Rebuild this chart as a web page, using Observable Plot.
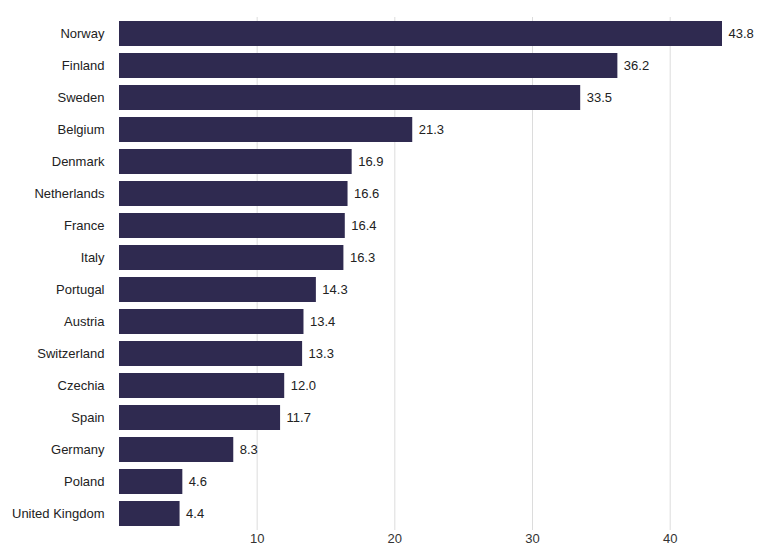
<!DOCTYPE html>
<html>
<head>
<meta charset="utf-8">
<script src="https://cdn.jsdelivr.net/npm/d3@7"></script>
<script src="https://cdn.jsdelivr.net/npm/@observablehq/plot@0.6"></script>
<style>
  html, body { margin: 0; padding: 0; background: #fff; }
  #chart svg { display: block; }
</style>
</head>
<body>
<div id="chart"></div>
<script>
const countries = ["Norway","Finland","Sweden","Belgium","Denmark","Netherlands","France","Italy","Portugal","Austria","Switzerland","Czechia","Spain","Germany","Poland","United Kingdom"];
const values = [43.8,36.2,33.5,21.3,16.9,16.6,16.4,16.3,14.3,13.4,13.3,12.0,11.7,8.3,4.6,4.4];
const xTicks = [10,20,30,40];

const data = countries.map((c, i) => ({country: c, value: values[i]}));

const chart = Plot.plot({
  width: 770,
  height: 556,
  marginLeft: 119,
  marginRight: 48,
  marginTop: 17,
  marginBottom: 26,
  style: {fontFamily: "'Liberation Sans', Arial, sans-serif", fontSize: "13px", color: "#333"},
  x: {domain: [0, 43.8], label: null},
  y: {domain: countries, label: null, paddingInner: 0.22, paddingOuter: 0.11},
  marks: [
    Plot.gridX(xTicks, {stroke: "#dcdcdc", strokeOpacity: 1}),
    Plot.barX(data, {x: "value", y: "country", fill: "#2f2a50"}),
    Plot.text(data, {x: "value", y: "country", text: d => d.value.toFixed(1), textAnchor: "start", dx: 6, fill: "#222", fontSize: 13}),
    Plot.axisX(xTicks, {tickSize: 0, tickPadding: 3, label: null, fontSize: 13, color: "#333"}),
    Plot.axisY({tickSize: 0, tickPadding: 15, label: null, fontSize: 13, color: "#222"})
  ]
});
document.getElementById("chart").appendChild(chart);
</script>
</body>
</html>
